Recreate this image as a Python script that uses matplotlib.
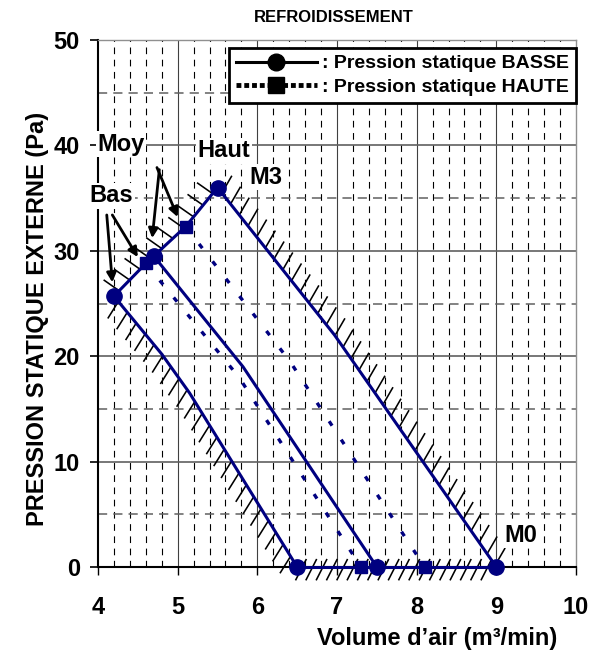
import matplotlib
matplotlib.use("Agg")
import matplotlib.pyplot as plt
import numpy as np
from matplotlib.lines import Line2D
from matplotlib.collections import LineCollection

plt.rcParams['font.family'] = ['Liberation Sans', 'DejaVu Sans']
plt.rcParams['font.weight'] = 'bold'

# BASSE curves (solid), x = m3/min, y = Pa
bas_x = [4.2, 4.8, 5.15, 6.5]
bas_y = [25.7, 20.2, 16.5, 0]
moy_x = [4.7, 5.82, 7.5]
moy_y = [29.5, 19.0, 0]
haut_x = [5.5, 6.97, 9.0]
haut_y = [36.0, 22.0, 0]

# HAUTE curves (dotted)
hbas_x = [4.6, 5.77, 7.3]
hbas_y = [28.8, 18.0, 0]
hmoy_x = [5.1, 6.41, 8.1]
hmoy_y = [32.3, 19.5, 0]

xticks = [4, 5, 6, 7, 8, 9, 10]
yticks = [0, 10, 20, 30, 40, 50]

navy = '#000080'

fig = plt.figure(figsize=(6.08, 6.57), dpi=100)
ax = fig.add_axes([98/608, 1-567/657, 478/608, 527/657])
ax.set_xlim(4, 10)
ax.set_ylim(0, 50)

# grid
for i in range(30):
    xv = 4 + 0.2*i
    if i % 5 != 0:
        ax.axvline(xv, color='black', lw=0.8, ls=(0, (6, 5)), zorder=1)
for xv in xticks[1:-1]:
    ax.axvline(xv, color='#404040', lw=0.8, zorder=1)
for yv in [10, 20, 30, 40]:
    ax.axhline(yv, color='#606060', lw=1.2, zorder=1)
for yv in [5, 15, 25, 35, 45]:
    ax.axhline(yv, color='#606060', lw=1.1, ls=(0, (6, 4)), zorder=1)


def hatch(xs, ys, angle, spacing, length, back=0.0):
    # short ticks along a polyline, in pixel space
    pts = ax.transData.transform(np.column_stack([xs, ys]))
    seg = np.diff(pts, axis=0)
    cum = np.concatenate([[0], np.cumsum(np.hypot(seg[:, 0], seg[:, 1]))])
    d = np.array([np.cos(np.radians(angle)), np.sin(np.radians(angle))])
    segs = []
    s = spacing / 2
    while s < cum[-1]:
        px = np.interp(s, cum, pts[:, 0])
        py = np.interp(s, cum, pts[:, 1])
        p = np.array([px, py])
        a = p - back * d
        b = p + length * d
        segs.append(ax.transData.inverted().transform([a, b]))
        s += spacing
    lc = LineCollection(segs, colors='black', linewidths=1.15, zorder=3)
    lc.set_clip_on(False)
    ax.add_collection(lc)


rise_x = [bas_x[0], hbas_x[0], moy_x[0], hmoy_x[0], haut_x[0]]
rise_y = [bas_y[0], hbas_y[0], moy_y[0], hmoy_y[0], haut_y[0]]
bot_x = [bas_x[-1], haut_x[-1]]
bot_y = [0, 0]

hatch(bas_x, bas_y, 238, 14, 20)
hatch(rise_x, rise_y, 145, 15, 19)
hatch(haut_x, haut_y, 60, 14, 20)
hatch(bot_x, bot_y, 243, 10.3, 15, back=9)

for xs, ys in [(bas_x, bas_y), (rise_x, rise_y), (haut_x, haut_y),
               (bot_x, bot_y), (moy_x, moy_y)]:
    ax.plot(xs, ys, color=navy, lw=2.2, zorder=4, clip_on=False)

ax.plot(hbas_x, hbas_y, color=navy, lw=2.4, ls=(0, (1.6, 5)), zorder=4)
ax.plot(hmoy_x, hmoy_y, color=navy, lw=2.4, ls=(0, (1.6, 5)), zorder=4)

# markers
ax.plot([bas_x[0], moy_x[0], haut_x[0]], [bas_y[0], moy_y[0], haut_y[0]],
        'o', color=navy, ms=11, zorder=6, clip_on=False)
ax.plot([bas_x[-1], moy_x[-1], haut_x[-1]], [0, 0, 0],
        'o', color=navy, ms=11, zorder=6, clip_on=False)
ax.plot([hbas_x[0], hmoy_x[0]], [hbas_y[0], hmoy_y[0]],
        's', color=navy, ms=8.5, zorder=5)
ax.plot([hbas_x[-1], hmoy_x[-1]], [0, 0],
        's', color=navy, ms=8.5, zorder=5, clip_on=False)

# annotations
box = dict(facecolor='white', edgecolor='none', pad=1)
ax.text(4.17, 35.2, 'Bas', fontsize=17, ha='center', va='center', bbox=box, zorder=7)
ax.text(4.29, 40.1, 'Moy', fontsize=17, ha='center', va='center', bbox=box, zorder=7)
ax.text(5.58, 39.5, 'Haut', fontsize=17, ha='center', va='center', bbox=box, zorder=7)
ax.text(6.11, 37.0, 'M3', fontsize=17, ha='center', va='center', bbox=box, zorder=7)
ax.text(9.31, 3.0, 'M0', fontsize=17, ha='center', va='center', bbox=box, zorder=7)

arr = dict(arrowstyle='-|>', color='black', lw=2, mutation_scale=14,
           shrinkA=0, shrinkB=0)
ax.annotate('', xy=(4.18, 27.0), xytext=(4.11, 33.4), arrowprops=arr, zorder=7)
ax.annotate('', xy=(4.50, 29.4), xytext=(4.18, 33.4), arrowprops=arr, zorder=7)
ax.annotate('', xy=(5.00, 33.2), xytext=(4.74, 37.9), arrowprops=arr, zorder=7)
ax.annotate('', xy=(4.68, 31.2), xytext=(4.77, 37.7), arrowprops=arr, zorder=7)

# axes styling
ax.spines['left'].set_color('black')
ax.spines['left'].set_linewidth(1.5)
ax.spines['bottom'].set_color('black')
ax.spines['bottom'].set_linewidth(1.5)
ax.spines['top'].set_color('#909090')
ax.spines['right'].set_color('#909090')
ax.spines['top'].set_linewidth(1.0)
ax.spines['right'].set_linewidth(1.0)
ax.set_xticks(xticks)
ax.set_yticks(yticks)
ax.tick_params(axis='x', direction='out', length=6, width=1, pad=15, labelsize=17)
ax.tick_params(axis='y', direction='out', length=6, width=1.2, pad=7, labelsize=17)

# legend
h1 = Line2D([], [], color='black', lw=2.2, marker='o', ms=12)
h2 = Line2D([], [], color='black', lw=3.5, ls=(0, (1, 0.6)), marker='s', ms=11)
leg = ax.legend([h1, h2], [': Pression statique BASSE', ': Pression statique HAUTE'],
                loc='upper right', bbox_to_anchor=(1.0, 0.985), borderaxespad=0,
                fontsize=14, handlelength=4.2, handletextpad=0.25,
                fancybox=False, framealpha=1, edgecolor='black',
                borderpad=0.35, labelspacing=0.3)
leg.get_frame().set_linewidth(2)
leg.set_zorder(10)

fig.text(334/608, 1-17/657, 'REFROIDISSEMENT', fontsize=12, ha='center', va='center')
fig.text(38/608, 1-319/657, 'PRESSION STATIQUE EXTERNE (Pa)', fontsize=17,
         rotation=90, ha='center', va='center')
fig.text(437/608, 1-638/657, 'Volume d\u2019air (m\u00b3/min)', fontsize=17,
         ha='center', va='center')

fig.savefig('out.png', dpi=100)
